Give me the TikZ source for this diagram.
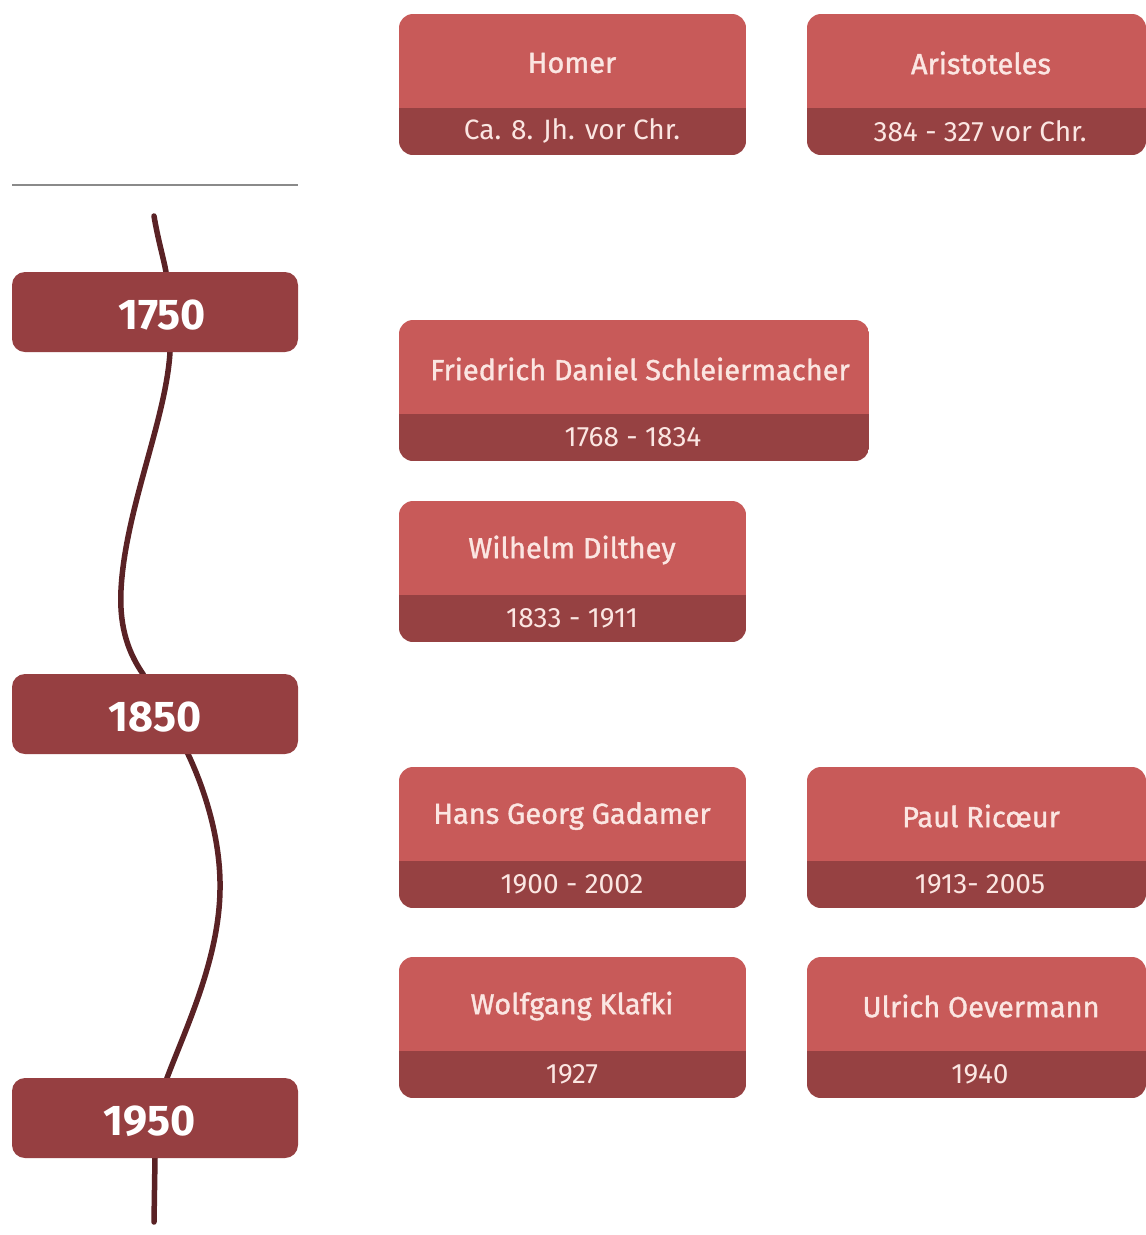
\documentclass[tikz,border=0pt]{standalone}
\usepackage{fontspec}
\setmainfont{Fira Sans}
\newfontfamily\namefont{Fira Sans}[FakeBold=1.2]
\definecolor{topc}{HTML}{C85A59}
\definecolor{botc}{HTML}{964142}
\definecolor{yearc}{HTML}{963F41}
\definecolor{curvec}{HTML}{5A2225}
\definecolor{txtc}{HTML}{FBE6E2}
\definecolor{rulec}{HTML}{8A8A8A}
\tikzset{
  nametext/.style={text=txtc,font=\namefont\fontsize{29}{33}\selectfont,inner sep=0pt,anchor=center},
  datetext/.style={text=txtc,font=\fontsize{28}{32}\selectfont,inner sep=0pt,anchor=center},
  yeartext/.style={text=white,font=\bfseries\fontsize{43}{48}\selectfont,inner sep=0pt,anchor=center},
  yearbox/.style={fill=yearc,rounded corners=13pt},
  timeline/.style={draw=curvec,line width=5.5pt,line cap=round},
}
% #1 name, #2 x1, #3 x2, #4 top y, #5 title, #6 date, #7 title centre x, #8 date centre x
\newcommand\pbox[8]{%
  \begin{scope}
    \clip[rounded corners=14pt] (#2,#4) rectangle (#3,{#4+141});
    \fill[topc] (#2,#4) rectangle (#3,{#4+94});
    \fill[botc] (#2,{#4+94}) rectangle (#3,{#4+141});
  \end{scope}
  \node[nametext] (#1n) at (#7,{#4+49}) {#5};
  \node[datetext] (#1d) at (#8,{#4+117}) {#6};
}
\begin{document}
\begin{tikzpicture}[x=1pt,y=-1pt]
\useasboundingbox (0,0) rectangle (1146,1235);
\fill[white] (0,0) rectangle (1146,1235);
% rule
\coordinate (r1) at (12,185);
\coordinate (r2) at (298,185);
\draw[rulec,line width=2.5pt] (r1) -- (r2);
% timeline curve
\coordinate (c0) at (154,216);
\coordinate (c1) at (166,272);
\coordinate (c2) at (170,352);
\coordinate (c3) at (121,590);
\coordinate (c4) at (143,674);
\coordinate (c5) at (188,754);
\coordinate (c6) at (220,890);
\coordinate (c7) at (167,1078);
\coordinate (c8) at (155,1158);
\coordinate (c9) at (154,1222);
\draw[timeline] (c0) .. controls (158,240) and (164,260) .. (c1)
  .. controls (170,300) and (171,330) .. (c2)
  .. controls (166,420) and (125,510) .. (c3)
  .. controls (119,630) and (130,655) .. (c4)
  .. controls (155,700) and (175,730) .. (c5)
  .. controls (205,790) and (221,840) .. (c6)
  .. controls (219,960) and (185,1030) .. (c7)
  .. controls (158,1100) and (155,1130) .. (c8)
  -- (c9);
% year boxes
\fill[yearbox] (12,272) rectangle (298,352);
\node[yeartext] (y1750) at (162,315) {1750};
\fill[yearbox] (12,674) rectangle (298,754);
\node[yeartext] (y1850) at (155,717) {1850};
\fill[yearbox] (12,1078) rectangle (298,1158);
\node[yeartext] (y1950) at (150,1121) {1950};
% person boxes
\pbox{homer}{399}{746}{14}{Homer}{Ca. 8. Jh. vor Chr.}{572}{572}
\pbox{aris}{807}{1146}{14}{Aristoteles}{384 - 327 vor Chr.}{981}{980}
\pbox{schl}{399}{869}{320}{Friedrich Daniel Schleiermacher}{1768 - 1834}{640}{633}
\pbox{dilt}{399}{746}{501}{Wilhelm Dilthey}{1833 - 1911}{572}{572}
\pbox{gada}{399}{746}{767}{Hans Georg Gadamer}{1900 - 2002}{572}{572}
\pbox{rico}{807}{1146}{767}{Paul Ric\oe ur}{1913- 2005}{981}{980}
\pbox{klaf}{399}{746}{957}{Wolfgang Klafki}{1927}{572}{572}
\pbox{oeve}{807}{1146}{957}{Ulrich Oevermann}{1940}{981}{980}
\end{tikzpicture}
\end{document}
